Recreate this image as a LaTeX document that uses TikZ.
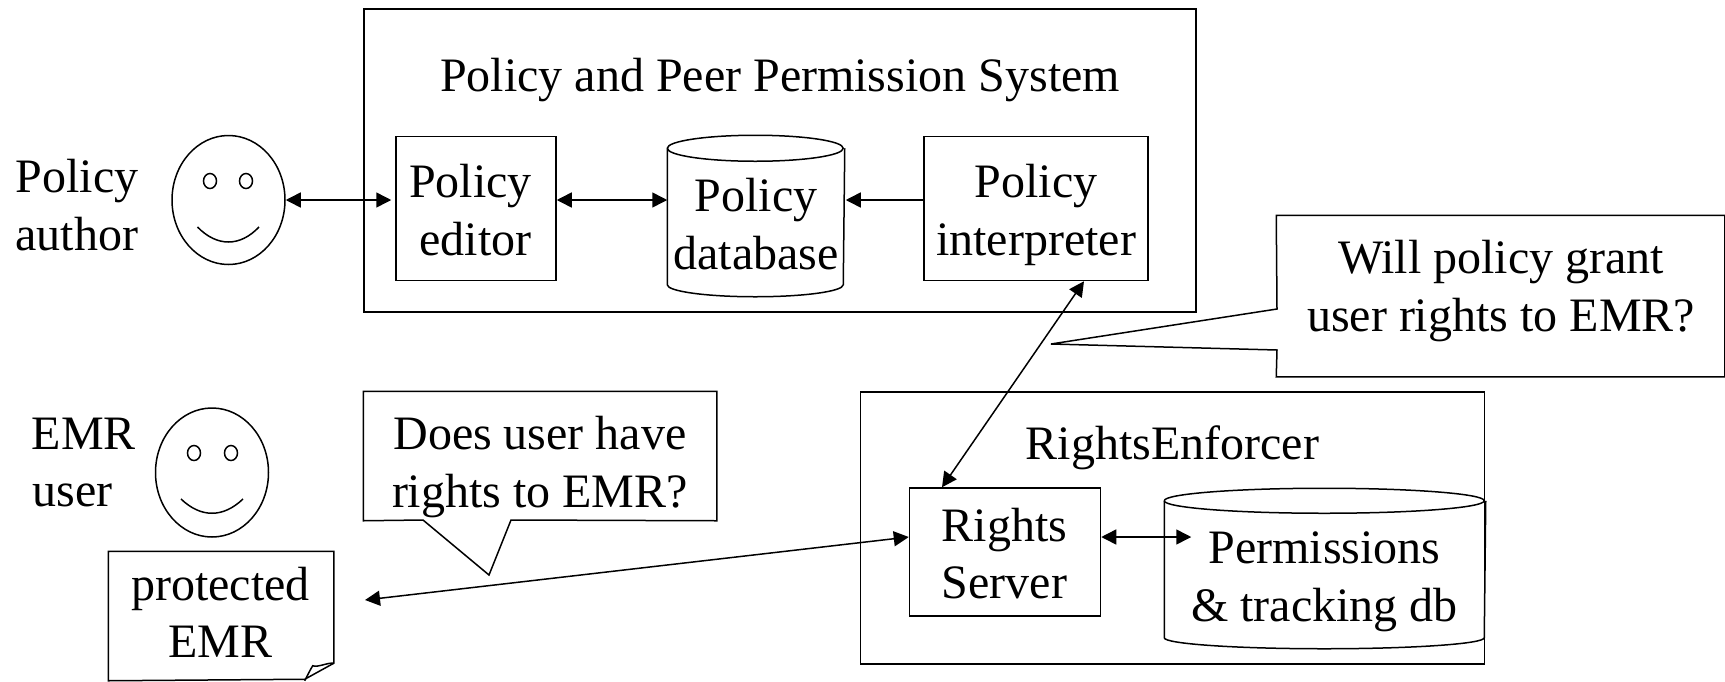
\documentclass[tikz,border=0pt]{standalone}
\usepackage{fontspec}
\setmainfont{Liberation Serif}
\usetikzlibrary{arrows.meta,calc,shapes.geometric}
\tikzset{
  x=1pt,y=-1pt,
  both/.style={{Triangle[length=15pt,width=15pt]}-{Triangle[length=15pt,width=15pt]}},
  single/.style={-{Triangle[length=15pt,width=15pt]}},
  boxnode/.style={draw,rectangle,inner sep=0pt},
  ghost/.style={rectangle,inner sep=0pt},
  txt/.style={inner sep=0pt,anchor=base,align=center,font=\fontsize{48}{57.5}\selectfont},
  facenode/.style={draw,ellipse,inner sep=0pt,minimum width=113pt,minimum height=129pt},
  eye/.style={draw,ellipse,inner sep=0pt,minimum width=13pt,minimum height=15pt},
}
\begin{document}
\begin{tikzpicture}[line width=1.5pt]
\useasboundingbox (0,0) rectangle (1725,681);
% outer boxes
\node[boxnode,minimum width=832pt,minimum height=303pt] (sys) at (780,160.5) {};
\node[boxnode,minimum width=624pt,minimum height=272pt] (enf) at (1172.5,528) {};
\node[txt] (systxt) at (780,91.5) {Policy and Peer Permission System};
\node[txt] (enftxt) at (1172.5,459) {RightsEnforcer};
% faces
\node[facenode] (f1) at (228.5,200) {};
\node[eye] (f1a) at (210,181) {};
\node[eye] (f1b) at (246,181) {};
\coordinate (f1l) at (197.5,227);
\coordinate (f1r) at (259,227);
\draw (f1l) .. controls (217,247) and (240,247) .. (f1r);
\node[txt] (authortxt) at (77,250) {Policy\\author};
\node[facenode] (f2) at (212,472.5) {};
\node[eye] (f2a) at (194,453) {};
\node[eye] (f2b) at (231,453) {};
\coordinate (f2l) at (181,499);
\coordinate (f2r) at (243,499);
\draw (f2l) .. controls (201,518) and (223,518) .. (f2r);
\node[txt] (usertxt) at (84,506.5) {EMR\\user\hspace*{23pt}};
% inner boxes
\node[boxnode,minimum width=160pt,minimum height=144pt] (edt) at (476,208.5) {};
\node[txt] (edttxt) at (475.5,255) {Policy\hspace*{10pt}\\editor};
\node[boxnode,minimum width=224pt,minimum height=144pt] (int) at (1036,208.5) {};
\node[txt] (inttxt) at (1036,255) {Policy\\interpreter};
\node[ghost,minimum width=176pt,minimum height=160pt] (db) at (756,216) {};
\draw ($(db.north west)+(0,13)$) arc[start angle=180,end angle=-180,x radius=88pt,y radius=13pt];
\draw ($(db.north west)+(0,13)$) -- ($(db.south west)+(0,-12)$)
      arc[start angle=180,end angle=360,x radius=88pt,y radius=12pt]
      -- ($(db.north east)+(0,13)$);
\node[txt] (dbtxt) at (756,269) {Policy\\database};
\node[boxnode,minimum width=191pt,minimum height=128pt] (rs) at (1005,552) {};
\node[txt] (rstxt) at (1004.5,598.5) {Rights\\Server};
\node[ghost,minimum width=320pt,minimum height=159pt] (pm) at (1325,568.5) {};
\draw ($(pm.north west)+(0,12.5)$) arc[start angle=180,end angle=-180,x radius=160pt,y radius=12.5pt];
\draw ($(pm.north west)+(0,12.5)$) -- ($(pm.south west)+(0,-11)$)
      arc[start angle=180,end angle=360,x radius=160pt,y radius=11pt]
      -- ($(pm.north east)+(0,12.5)$);
\node[txt] (pmtxt) at (1324.5,621) {Permissions\\\& tracking db};
% document
\node[ghost,minimum width=224pt,minimum height=128pt] (doc) at (221,616) {};
\draw (doc.north west) -- (doc.north east) -- ++(0,112)
      -- ++(-29,16) -- (doc.south west) -- cycle;
\draw ($(doc.south east)+(-29,0)$) .. controls +(3,-6) and +(-2,3) .. ++(8,-15)
      .. controls +(5,2) and +(-6,-1) .. ($(doc.north east)+(0,112)$);
\node[txt] (doctxt) at (220.5,657.5) {protected\\EMR};
% callouts
\node[ghost,minimum width=352pt,minimum height=128pt] (c1) at (540,456) {};
\coordinate (c1tip) at (489,575);
\draw (c1.north west) -- (c1.north east) -- (c1.south east) -- (511,520) -- (c1tip) -- (423,520)
      -- (c1.south west) -- cycle;
\node[txt] (c1txt) at (540,507) {Does user have\\rights to EMR?};
\node[ghost,minimum width=447pt,minimum height=160pt] (c2) at (1500.5,296) {};
\coordinate (c2tip) at (1051,344);
\draw (c2.north west) -- (c2.north east) -- (c2.south east) -- (c2.south west) -- (1277,350)
      -- (c2tip) -- (1277,309) -- cycle;
\node[txt] (c2txt) at (1501,331) {Will policy grant\\user rights to EMR?};
% connectors
\coordinate (emrtip) at (365,600);
\draw[both] (f1.east) -- ([xshift=-4pt,yshift=8.5pt]edt.west);
\draw[both] ([yshift=8.5pt]edt.east) -- ([yshift=16pt]db.west);
\draw[single] ([yshift=8.5pt]int.west) -- ([xshift=1pt,yshift=16pt]db.east);
\draw[both] ([xshift=48pt]int.south) -- ([xshift=-63pt]rs.north);
\draw[both] (emrtip) -- ([yshift=15pt]rs.west);
\draw[both] ([yshift=15pt]rs.east) -- ([xshift=27pt,yshift=31.5pt]pm.west);
\end{tikzpicture}
\end{document}
